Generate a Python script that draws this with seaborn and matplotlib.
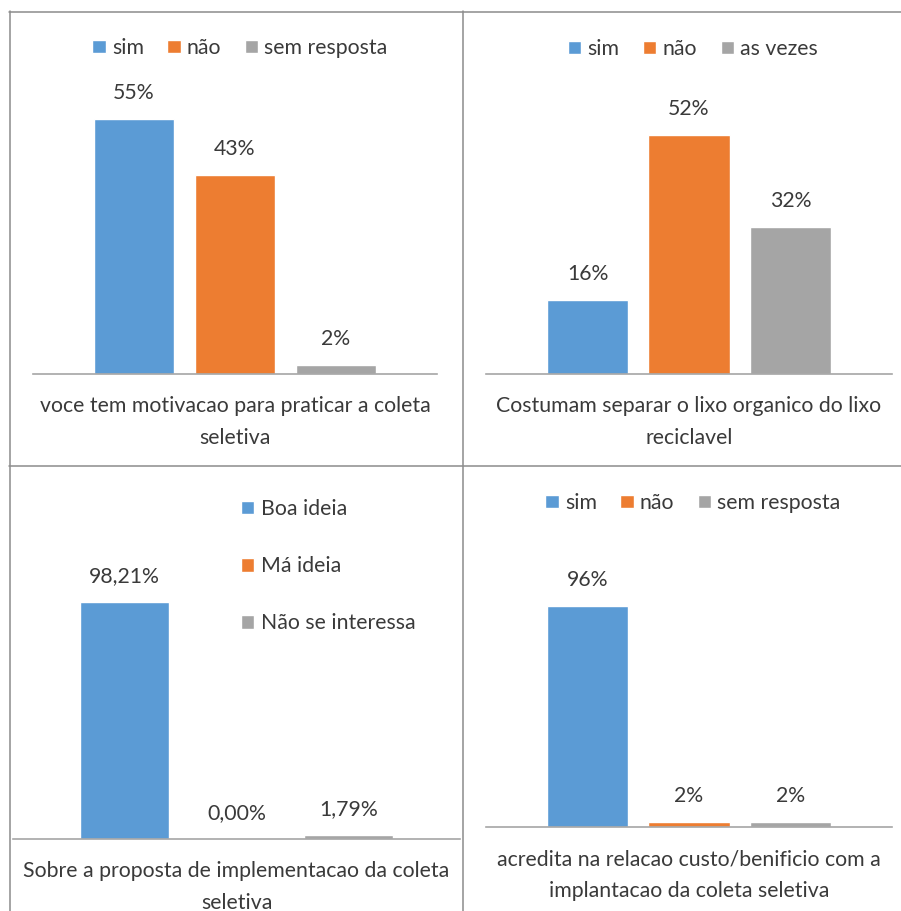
import matplotlib
matplotlib.use("Agg")
import matplotlib.pyplot as plt
import seaborn as sns
from matplotlib.lines import Line2D

sns.set_theme(style="white")
plt.rcParams['font.family'] = ['Lato', 'DejaVu Sans']

# ---------------- data ----------------
q1_title = "voce tem motivacao para praticar a coleta\nseletiva"
q1_labels = ["sim", "não", "sem resposta"]
q1_values = [55, 43, 2]
q1_text = ["55%", "43%", "2%"]

q2_title = "Costumam separar o lixo organico do lixo\nreciclavel"
q2_labels = ["sim", "não", "as vezes"]
q2_values = [16, 52, 32]
q2_text = ["16%", "52%", "32%"]

q3_title = "Sobre a proposta de implementacao da coleta\nseletiva"
q3_labels = ["Boa ideia", "Má ideia", "Não se interessa"]
q3_values = [98.21, 0.00, 1.79]
q3_text = ["98,21%", "0,00%", "1,79%"]

q4_title = "acredita na relacao custo/benificio com a\nimplantacao da coleta seletiva"
q4_labels = ["sim", "não", "sem resposta"]
q4_values = [96, 2, 2]
q4_text = ["96%", "2%", "2%"]

colors = ["#5B9BD5", "#ED7D31", "#A5A5A5"]
TXT = "#3A3A3A"
FS = 15.3

W, H = 901, 911
fig = plt.figure(figsize=(W / 100, H / 100), dpi=100)


def px_axes(x0, x1, base, height):
    return fig.add_axes([x0 / W, 1 - base / H, (x1 - x0) / W, height / H])


def panel(rect, labels, values, texts, title, ymax, legend_kw):
    ax = px_axes(*rect)
    sns.barplot(x=labels, y=values, hue=labels, palette=colors, width=0.8,
                ax=ax, legend=False, saturation=1, order=labels, hue_order=labels)
    ax.set_xlim(-1.0, 3.0)
    ax.set_ylim(0, ymax)
    for c, t in zip(ax.containers, texts):
        ax.bar_label(c, labels=[t], padding=11.5, fontsize=FS, color=TXT)
    for s in ["top", "left", "right"]:
        ax.spines[s].set_visible(False)
    ax.spines["bottom"].set_color("#A6A6A6")
    ax.spines["bottom"].set_linewidth(1.2)
    ax.set_yticks([])
    ax.set_xticks([1])
    ax.set_xticklabels([title], fontsize=FS, color=TXT, linespacing=1.75)
    ax.tick_params(axis="x", length=0, pad=16)
    ax.set_xlabel("")
    ax.set_ylabel("")
    ax.patch.set_alpha(0)
    ax.legend(handles=ax.containers, labels=labels, frameon=False,
              fontsize=FS, labelcolor=TXT, handlelength=0.62, handleheight=0.62,
              handletextpad=0.3, borderpad=0, borderaxespad=0,
              bbox_transform=fig.transFigure, **legend_kw)
    return ax


panel((33, 437, 374, 278), q1_labels, q1_values, q1_text, q1_title, 60,
      dict(loc="center", bbox_to_anchor=(240 / W, 1 - 48 / H), ncol=3, columnspacing=1.1))
panel((486, 892, 374, 276), q2_labels, q2_values, q2_text, q2_title, 60,
      dict(loc="center", bbox_to_anchor=(693 / W, 1 - 49 / H), ncol=3, columnspacing=1.1))
panel((13, 460, 839, 289), q3_labels, q3_values, q3_text, q3_title, 120,
      dict(loc="upper left", bbox_to_anchor=(241 / W, 1 - 499 / H), ncol=1, labelspacing=1.75))
panel((486, 892, 827, 276), q4_labels, q4_values, q4_text, q4_title, 120,
      dict(loc="center", bbox_to_anchor=(693 / W, 1 - 503 / H), ncol=3, columnspacing=1.1))

# table grid lines
lc = "#8C8C8C"
lw = 1.1
def hline(y, x0, x1):
    fig.add_artist(Line2D([x0 / W, x1 / W], [1 - y / H, 1 - y / H], color=lc, lw=lw))
def vline(x, y0, y1):
    fig.add_artist(Line2D([x / W, x / W], [1 - y0 / H, 1 - y1 / H], color=lc, lw=lw))

hline(11.5, 9, W)
hline(465.5, 9, W)
vline(9.5, 11, H)
vline(462.5, 11, H)

fig.savefig("out.png", dpi=100)
